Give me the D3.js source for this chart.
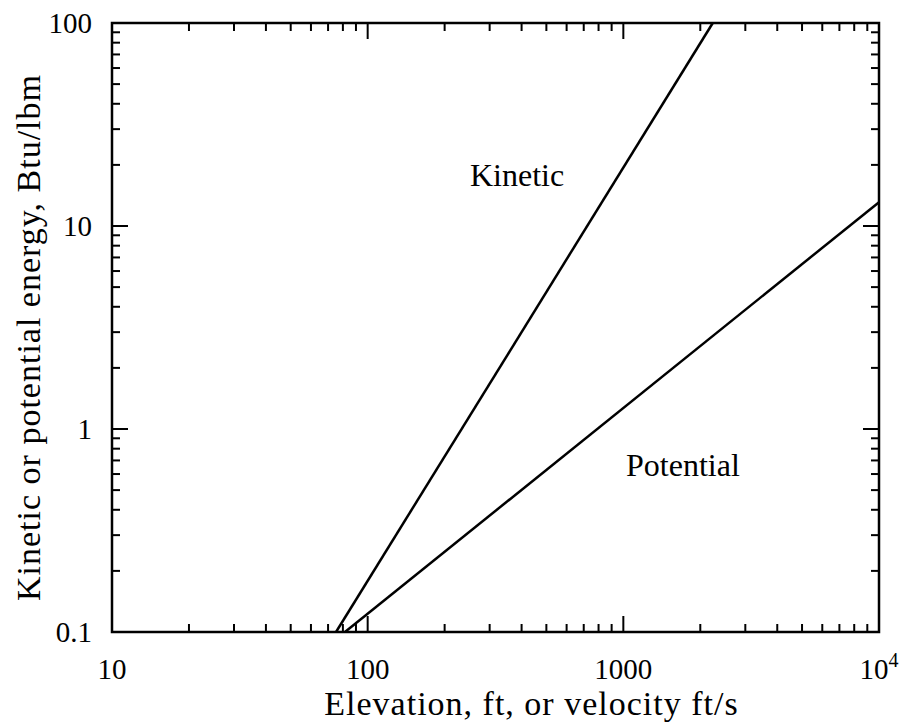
<!DOCTYPE html>
<html>
<head>
<meta charset="utf-8">
<script src="https://d3js.org/d3.v7.min.js"></script>
<style>
body { margin: 0; background: #fff; }
text { font-family: "Liberation Serif", "Times New Roman", serif; fill: #000; }
</style>
</head>
<body>
<svg width="903" height="723"></svg>
<script>
var xTicks = [10, 100, 1000, 10000];
var xTickLabels = ["10", "100", "1000", "10^4"];
var yTicks = [0.1, 1, 10, 100];
var yTickLabels = ["0.1", "1", "10", "100"];

// line endpoints
var kineticX = [75.2, 2238];
var kineticY = [0.1, 100];
var potentialX = [81.5, 10000];
var potentialY = [0.1, 13.1];

var seriesNames = ["Kinetic", "Potential"];
var labelAt = [[384, 17.8], [1710, 0.665]];

var svg = d3.select("svg"),
    margin = {top: 23, right: 24, bottom: 91, left: 112},
    width = +svg.attr("width") - margin.left - margin.right,
    height = +svg.attr("height") - margin.top - margin.bottom,
    g = svg.append("g").attr("transform", `translate(${margin.left},${margin.top})`);

var x = d3.scaleLog().domain([10, 10000]).range([0, width]);
var y = d3.scaleLog().domain([0.1, 100]).range([height, 0]);

function minors(dom) {
  var out = [];
  for (var d = dom[0]; d < dom[1]; d *= 10)
    for (var k = 2; k <= 9; k++) out.push(d * k);
  return out;
}
var xMinor = minors(x.domain()), yMinor = minors(y.domain());

var tickG = g.append("g").attr("stroke", "#000").attr("stroke-width", 2);
function vt(list, len) {
  list.forEach(function(v) {
    tickG.append("line").attr("x1", x(v)).attr("x2", x(v)).attr("y1", height).attr("y2", height - len);
    tickG.append("line").attr("x1", x(v)).attr("x2", x(v)).attr("y1", 0).attr("y2", len);
  });
}
function ht(list, len) {
  list.forEach(function(v) {
    tickG.append("line").attr("y1", y(v)).attr("y2", y(v)).attr("x1", 0).attr("x2", len);
    tickG.append("line").attr("y1", y(v)).attr("y2", y(v)).attr("x1", width).attr("x2", width - len);
  });
}
vt(xMinor, 8); vt(xTicks, 16);
ht(yMinor, 8); ht(yTicks, 16);

g.append("rect").attr("width", width).attr("height", height)
  .attr("fill", "none").attr("stroke", "#000").attr("stroke-width", 2.5);

// x tick labels
xTicks.forEach(function(v, i) {
  var t = g.append("text").attr("x", x(v)).attr("y", height + 47)
    .attr("text-anchor", "middle").style("font-size", "29px");
  var parts = xTickLabels[i].split("^");
  t.append("tspan").text(parts[0]);
  if (parts[1]) t.append("tspan").attr("dy", -12).style("font-size", "20px").text(parts[1]);
});
yTicks.forEach(function(v, i) {
  g.append("text").attr("x", -20).attr("y", y(v)).attr("dy", "0.35em")
    .attr("text-anchor", "end").style("font-size", "29px").text(yTickLabels[i]);
});

var line = d3.line().x(function(d) { return x(d[0]); }).y(function(d) { return y(d[1]); });
var series = [d3.zip(kineticX, kineticY), d3.zip(potentialX, potentialY)];
g.selectAll(".series").data(series).enter().append("path")
  .attr("class", "series").attr("d", line)
  .attr("fill", "none").attr("stroke", "#000").attr("stroke-width", 2.5);

seriesNames.forEach(function(n, i) {
  g.append("text").attr("x", x(labelAt[i][0])).attr("y", y(labelAt[i][1]))
    .attr("text-anchor", "middle").attr("dy", "0.35em").style("font-size", "32px").text(n);
});

g.append("text").attr("x", width / 2 + 36).attr("y", height + 83)
  .attr("text-anchor", "middle").style("font-size", "34px").style("letter-spacing", "1px")
  .text("Elevation, ft, or velocity ft/s");
g.append("text").attr("transform", `translate(-72,${height / 2 + 10}) rotate(-90)`)
  .attr("text-anchor", "middle").style("font-size", "34px").style("letter-spacing", "1px")
  .text("Kinetic or potential energy, Btu/lbm");
</script>
</body>
</html>
